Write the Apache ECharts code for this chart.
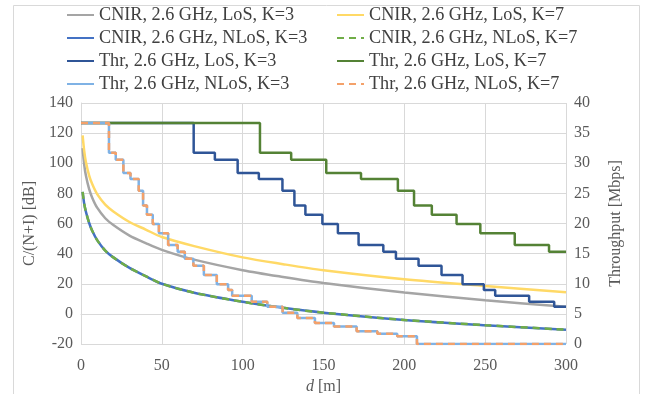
<!DOCTYPE html>
<html>
<head>
<meta charset="utf-8">
<script src="https://cdn.jsdelivr.net/npm/echarts@6/dist/echarts.min.js"></script>
<style>
  html, body { margin: 0; padding: 0; background: #fff; }
  #main { width: 646px; height: 394px; }
</style>
</head>
<body>
<div id="main"></div>
<script>
// distances [m] where the smooth CNIR curves were read
var dSamples = [1, 2, 3, 5, 7, 10, 15, 20, 30, 40, 50, 70, 100, 125, 150, 200, 250, 300];
// CNIR [dB]
var cnirLos3 = [110, 99, 92, 83, 77, 70.5, 63.5, 59, 52, 47, 42.5, 36, 29, 24.5, 20.5, 14.2, 9, 4.8];
var cnirLos7 = [118.5, 108, 101, 92, 86, 79.5, 72.5, 68, 61, 56, 51, 45, 37.5, 33, 29, 23, 18.5, 14.3];
var cnirNlos3 = [81, 73, 68, 60.5, 55, 49, 42, 37.5, 30.5, 25, 20, 14, 8, 4, 0.8, -4, -7.5, -10.5];
var cnirNlos7 = [81, 73, 68, 60.5, 55, 49, 42, 37.5, 30.5, 25, 20, 14, 8, 4, 0.8, -4, -7.5, -10.5];

// throughput steps: level i holds from d[i] to d[i+1] (last one up to 300 m)
var thrLos3D = [0, 69.7, 82.8, 96.9, 110, 124.6, 132, 138.8, 149.3, 158.9, 171.7, 187, 194.8, 208.8, 223, 236, 249.2, 256.2, 277.2, 292.7];
var thrLos3V = [36.7, 31.75, 30.6, 28.4, 27.4, 25.45, 23.0, 21.45, 19.9, 18.4, 16.45, 15.3, 14.15, 13.0, 11.45, 9.9, 8.95, 8.0, 7.0, 6.2];
var thrLos7D = [0, 110.7, 130, 151.7, 173.2, 196, 206, 217, 232.3, 247, 268.3, 289.5];
var thrLos7V = [36.7, 31.75, 30.6, 28.4, 27.4, 25.45, 23.0, 21.45, 19.9, 18.4, 16.45, 15.3];
// NLoS K=3 and K=7 lie on top of each other
var thrNlosD = [0, 17.3, 21.5, 26.2, 30.6, 35.7, 38.4, 40.8, 44.4, 48.2, 53.9, 59.8, 64.2, 69.5, 76, 84, 91, 93.5, 105.6, 115.2, 124.7, 133.8, 144.7, 156.5, 170.5, 183.3, 195.6, 207.8];
var thrNlosV = [36.7, 31.75, 30.6, 28.4, 27.4, 25.45, 23.0, 21.45, 19.9, 18.4, 16.45, 15.3, 14.15, 13.0, 11.45, 9.9, 8.95, 8.0, 7.0, 6.2, 5.2, 4.3, 3.5, 2.9, 2.1, 1.7, 1.3, 0];

var font = "'Liberation Serif', 'Times New Roman', serif";

function pairs(xs, ys) {
    return xs.map(function (x, i) { return [x, ys[i]]; });
}
function steps(ds, vs) {
    var out = pairs(ds, vs);
    out.push([300, vs[vs.length - 1]]);
    return out;
}

function curve(name, data, color, dashed) {
    return {
        name: name, type: 'line', yAxisIndex: 0, data: data,
        smooth: 0.3, showSymbol: false, symbol: 'none',
        lineStyle: { color: color, width: 2.5, type: dashed ? [7, 5] : 'solid' },
        itemStyle: { color: color }
    };
}
function stair(name, data, color, dashed) {
    return {
        name: name, type: 'line', yAxisIndex: 1, data: data,
        step: 'end', showSymbol: false, symbol: 'none',
        lineStyle: { color: color, width: 2.5, type: dashed ? [7, 5] : 'solid' },
        itemStyle: { color: color }
    };
}

var chart = echarts.init(document.getElementById('main'));

var legendBase = {
    orient: 'vertical', top: 1, itemWidth: 27, itemHeight: 14, itemGap: 5,
    itemStyle: { opacity: 0 },
    textStyle: { fontFamily: font, fontSize: 18.2, color: '#404040', lineHeight: 18 }
};

var option = {
    animation: false,
    backgroundColor: '#fff',
    textStyle: { fontFamily: font },
    graphic: [{
        type: 'rect', left: 11, top: 3,
        shape: { width: 626, height: 390 },
        style: { fill: 'none', stroke: '#d9d9d9', lineWidth: 1 }
    }],
    legend: [
        Object.assign({}, legendBase, { left: 61, data: ['CNIR, 2.6 GHz, LoS, K=3', 'CNIR, 2.6 GHz, NLoS, K=3', 'Thr, 2.6 GHz, LoS, K=3', 'Thr, 2.6 GHz, NLoS, K=3'] }),
        Object.assign({}, legendBase, { left: 331, data: ['CNIR, 2.6 GHz, LoS, K=7', 'CNIR, 2.6 GHz, NLoS, K=7', 'Thr, 2.6 GHz, LoS, K=7', 'Thr, 2.6 GHz, NLoS, K=7'] })
    ],
    grid: { left: 81, right: 80, top: 103, bottom: 50, outerBoundsMode: 'none' },
    xAxis: {
        type: 'value', min: 0, max: 300, interval: 50,
        name: '{i|d} [m]', nameLocation: 'middle', nameGap: 33,
        nameTextStyle: {
            fontFamily: font, fontSize: 16, color: '#595959',
            rich: { i: { fontFamily: font, fontSize: 16, fontStyle: 'italic', color: '#595959' } }
        },
        axisLine: { show: true, lineStyle: { color: '#d9d9d9' } },
        axisTick: { show: false },
        axisLabel: { fontFamily: font, fontSize: 16, color: '#595959', margin: 14 },
        splitLine: { show: true, lineStyle: { color: '#d9d9d9' } }
    },
    yAxis: [{
        type: 'value', min: -20, max: 140, interval: 20, position: 'left',
        name: 'C/(N+I) [dB]', nameLocation: 'middle', nameGap: 35,
        nameTextStyle: { fontFamily: font, fontSize: 16, color: '#595959' },
        axisLine: { show: true, lineStyle: { color: '#d9d9d9' } },
        axisTick: { show: false },
        axisLabel: { fontFamily: font, fontSize: 16, color: '#595959', margin: 8 },
        splitLine: { show: true, lineStyle: { color: '#d9d9d9' } }
    }, {
        type: 'value', min: 0, max: 40, interval: 5, position: 'right',
        name: 'Throughput [Mbps]', nameLocation: 'middle', nameGap: 42,
        nameTextStyle: { fontFamily: font, fontSize: 16, color: '#595959' },
        axisLine: { show: false },
        axisTick: { show: false },
        axisLabel: { fontFamily: font, fontSize: 16, color: '#595959', margin: 8 },
        splitLine: { show: false }
    }],
    series: [
        curve('CNIR, 2.6 GHz, LoS, K=3', pairs(dSamples, cnirLos3), '#a5a5a5', false),
        curve('CNIR, 2.6 GHz, LoS, K=7', pairs(dSamples, cnirLos7), '#ffd966', false),
        curve('CNIR, 2.6 GHz, NLoS, K=3', pairs(dSamples, cnirNlos3), '#4472c4', false),
        curve('CNIR, 2.6 GHz, NLoS, K=7', pairs(dSamples, cnirNlos7), '#70ad47', true),
        stair('Thr, 2.6 GHz, LoS, K=3', steps(thrLos3D, thrLos3V), '#2f5597', false),
        stair('Thr, 2.6 GHz, LoS, K=7', steps(thrLos7D, thrLos7V), '#548235', false),
        stair('Thr, 2.6 GHz, NLoS, K=3', steps(thrNlosD, thrNlosV), '#7fb2e5', false),
        stair('Thr, 2.6 GHz, NLoS, K=7', steps(thrNlosD, thrNlosV), '#f4a16a', true)
    ]
};

chart.setOption(option);
</script>
</body>
</html>
